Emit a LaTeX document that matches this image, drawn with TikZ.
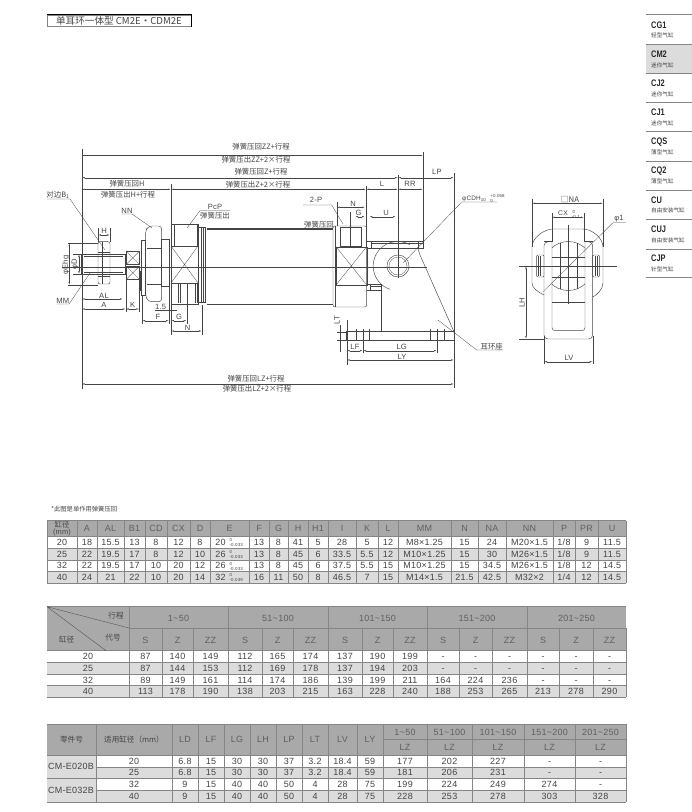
\documentclass[tikz,border=0pt]{standalone}
\usepackage{fontspec}
\setmainfont[LetterSpace=3]{Liberation Sans}
\newfontfamily\cjk{Noto Sans CJK SC}
\newfontfamily\sidefont[FakeStretch=0.78]{Liberation Sans}
\usetikzlibrary{arrows.meta}
\definecolor{ink}{HTML}{444444}
\definecolor{headgray}{HTML}{A9A9A9}
\definecolor{bandgray}{HTML}{DCDCDC}
\definecolor{rulegray}{HTML}{858585}
\newcommand\tol[2]{\hspace{4pt}\smash{\parbox[c]{14pt}{\fontsize{4.4}{5}\selectfont #1\\#2}}}
\tikzset{
  part/.style={draw=ink,line width=.45pt},
  thin part/.style={draw=ink,line width=.3pt},
  axis/.style={draw=ink,line width=.35pt},
  dimline/.style={draw=ink,line width=.35pt,{Latex[length=3pt,width=1.3pt]}-{Latex[length=3pt,width=1.3pt]}},
  leader/.style={draw=ink,line width=.3pt},
  lab/.style={font=\cjk\fontsize{7.4}{8}\selectfont,text=ink,inner sep=0pt},
  dimlab/.style={font=\fontsize{7.6}{8}\selectfont,text=ink,inner sep=0pt},
  cell/.style={font=\fontsize{9}{9}\selectfont,text=ink,inner sep=0pt,text height=6.3pt,text depth=0pt},
  headcell/.style={cell,text=ink!85},
  zhcell/.style={font=\cjk\fontsize{7.6}{8}\selectfont,text=ink,inner sep=0pt,align=center},
  grid/.style={draw=rulegray,line width=.6pt},
  sidename/.style={font=\sidefont\bfseries\fontsize{9.5}{10}\selectfont,text=black!85,inner sep=0pt,anchor=west},
  sidesub/.style={font=\cjk\fontsize{5.6}{6}\selectfont,text=ink,inner sep=0pt,anchor=west},
}
\begin{document}
\begin{tikzpicture}[x=1pt,y=-1pt]
\useasboundingbox (0,0) rectangle (692,812);

% title
\draw[draw=rulegray,line width=.5pt] (47,15) rectangle (191,26.7);
\draw[black,line width=1pt] (47,14.5) -- (191,14.5) -- (191,27);
\node[lab,font=\cjk\fontsize{9.6}{10}\selectfont] (title) at (119,21) {单耳环一体型 CM2E・CDM2E};

% side list
\fill[bandgray] (646,44) rectangle (692,73.3);
\foreach \y in {14.7,44,73.3,102.3,131,161,190,219.3,249,277.7}
  \draw[rulegray,line width=.7pt] (646,\y) -- (692,\y);
\foreach \ya/\yb/\name/\sub [count=\c] in {25/35.7/CG1/轻型气缸,54/65.7/CM2/迷你气缸,83/94/CJ2/迷你气缸,112/123/CJ1/迷你气缸,141.7/152/CQS/薄型气缸,170.7/181/CQ2/薄型气缸,200/210.7/CU/自由安装气缸,229/240/CUJ/自由安装气缸,258/269/CJP/针型气缸}{
  \node[sidename] (side-\c) at (651,\ya) {\name};
  \node[sidesub] (sub-\c) at (651,\yb) {\sub};
}

% datum lines
\draw[axis] (81.7,149) -- (81.7,389);
\draw[axis] (423,152) -- (423,248);
\draw[axis] (454,173) -- (454,388);
\draw[axis] (398,175) -- (398,278);
\draw[axis] (171,184) -- (171,335);
\draw[axis] (366,186) -- (366,248);
\draw[axis] (62,266.7) -- (427,266.7);

% stroke dimensions
\draw[dimline] (81.7,155.5) -- (423,155.5);
\draw[dimline] (81.7,177.7) -- (398,177.7);
\draw[dimline] (398,177.7) -- (454,177.7);
\draw[dimline] (81.7,189.3) -- (171,189.3);
\draw[dimline] (171,189.3) -- (366,189.3);
\draw[dimline] (366,189.3) -- (398,189.3);
\draw[dimline] (398,189.3) -- (423,189.3);
\draw[dimline] (81.7,384) -- (454,384);
\node[lab] (zz-in) at (261,147) {弹簧压回ZZ+行程};
\node[lab] (zz-out) at (256,160) {弹簧压出ZZ+2×行程};
\node[lab] (z-in) at (261,172) {弹簧压回Z+行程};
\node[lab] (z-out) at (258,185) {弹簧压出Z+2×行程};
\node[lab] (h-in) at (127,184) {弹簧压回H};
\node[lab] (h-out) at (128,195) {弹簧压出H+行程};
\node[lab] (lz-in) at (256,379) {弹簧压回LZ+行程};
\node[lab] (lz-out) at (257,389) {弹簧压出LZ+2×行程};
\node[dimlab] (l-lab) at (382,184) {L};
\node[dimlab] (rr-lab) at (410,184) {RR};
\node[dimlab] (lp-lab) at (437,172) {LP};

% rod, thread, nut
\draw[part] (81.7,254) -- (125,254) -- (125,274) -- (81.7,274) -- cycle;
\draw[thin part] (84,256) -- (123,256) (84,272) -- (123,272);
\draw[part,rounded corners=2] (98,241.7) rectangle (110,284);
\draw[thin part] (98,252) -- (110,252) (98,276) -- (110,276) (102,242) -- (102,284);
\draw[part] (126.7,251.7) rectangle (139,264);
\draw[part] (126.7,266.7) rectangle (139,279);
\draw[thin part] (126.7,251.7) -- (139,264) (126.7,264) -- (139,251.7);
\draw[thin part] (126.7,266.7) -- (139,279) (126.7,279) -- (139,266.7);

% mounting nut
\draw[part] (140,271.7) rectangle (141.7,290);
\draw[part] (141.7,240) rectangle (145.7,295);
\draw[part,rounded corners=3] (145.7,230) -- (149,226) -- (161.7,226) -- (161.7,301.7) -- (149,301.7) -- (145.7,297) -- cycle;
\draw[thin part] (147,248) -- (161.7,248) (147,284) -- (161.7,284);
\draw[part] (161.7,239) rectangle (169.3,286.7);

% left head
\draw[part] (171,224) rectangle (198,304);
\draw[part] (198,227) -- (205.7,227) -- (205.7,302) -- (198,302);
\draw[thin part] (201,227) -- (201,302) (203,227) -- (203,302);
\draw[thin part] (173.7,224) -- (173.7,246) (196.7,224) -- (196.7,246);
\draw[thin part] (171,246) rectangle (198,283);
\draw[thin part] (171,246) -- (198,283) (171,283) -- (198,246);
\draw[thin part] (178,284) -- (178,303) (180,284) -- (180,303) (195,284) -- (195,303) (197,284) -- (197,303);

% cylinder tube
\draw[part] (206.7,228) -- (332.7,228) (206.7,304) -- (332.7,304);
\draw[thin part] (206.7,229) -- (332.7,229);

% right head
\draw[part,rounded corners=2] (333,226) -- (366.7,226) -- (366.7,307) -- (333,307) -- cycle;
\draw[thin part] (335,226) -- (335,307);
\draw[thin part] (336,246.7) rectangle (366.7,285);
\draw[thin part] (336,246.7) -- (366.7,285) (336,285) -- (366.7,246.7);
\draw[part] (340,227.7) rectangle (361,246);
\draw[thin part] (350.5,212) -- (350.5,246);

% clevis
\draw[part] plot[domain=60:252,samples=40] ({397.7+24.5*cos(\x)},{266-24.5*sin(\x)});
\draw[part] (398,266) circle (11);
\draw[thin part] (398,266) circle (9);
\draw[part] (366.7,241.7) -- (423,241.7) -- (423,248.3) -- (366.7,248.3);
\draw[thin part] (371,243.5) -- (423,243.5) (371,241.7) -- (371,248.3) (418,241.7) -- (418,248.3);
\draw[part] (366.7,284) -- (381.7,284) -- (381.7,290.7) -- (366.7,290.7);
\draw[thin part] (370,284) -- (370,290.7) (370,286.5) -- (381.7,286.5);
\draw[part] (381.7,285) -- (381.7,331.7);
\draw[part] (417.7,248) -- (420,255) -- (454,331.7);
\draw[part] (346.7,331.7) rectangle (454,340);
\foreach \x in {356,362.7,369.3,430,437.3,444}
  \draw[thin part] (\x,329) -- (\x,340);

% left dimensions
\draw[dimline] (98,235) -- (110,235);
\draw[axis] (98,228) -- (98,242) (110,228) -- (110,242);
\node[dimlab] (h-lab) at (104,231) {H};
\draw[dimline] (69.3,243) -- (69.3,285);
\draw[axis] (68,243) -- (98,243) (68,285) -- (98,285);
\node[dimlab,rotate=90] (ehg-lab) at (66,265) {φEhg};
\draw[dimline] (79,254) -- (79,274);
\draw[axis] (73,254) -- (82,254) (73,274) -- (82,274);
\node[dimlab,rotate=90] (d-lab) at (75,264) {φD};
\node[lab] (b1-lab) at (58,195) {对边B\textsubscript{1}};
\draw[leader] (47,199) -- (70,199) -- (105,250);
\node[dimlab] (nn-lab) at (127,211) {NN};
\draw[leader] (122,214) -- (132,214) -- (152,228);
\node[dimlab] (pcp-lab) at (215,206.5) {PcP};
\node[lab] (pcp-out) at (215,215.5) {弹簧压出};
\draw[leader] (230,210.7) -- (200,210.7) -- (187,228);
\node[dimlab] (mm-lab) at (62.7,300.7) {MM};
\draw[leader] (56.7,304) -- (69,304) -- (90,273);
\draw[dimline] (81.7,299) -- (123,299);
\node[dimlab] (al-lab) at (104,296) {AL};
\draw[dimline] (81.7,309) -- (125.7,309);
\node[dimlab] (a-lab) at (104,305) {A};
\draw[dimline] (125.7,309) -- (139.3,309);
\node[dimlab] (k-lab) at (132.7,305) {K};
\draw[axis] (125.7,274) -- (125.7,312) (139.3,280) -- (139.3,312);
\node[dimlab] (t-lab) at (160.7,306.5) {1.5};
\draw[axis] (155,310) -- (176.7,310);
\draw[dimline] (142,320.7) -- (169,320.7);
\node[dimlab] (f-lab) at (158,317) {F};
\draw[dimline] (171,320.7) -- (186.7,320.7);
\node[dimlab] (g-lab) at (179,317) {G};
\draw[dimline] (171,331) -- (202,331);
\node[dimlab] (n-lab) at (187.7,327.7) {N};
\draw[axis] (142,296) -- (142,324) (169,287) -- (169,324) (187,284) -- (187,324) (202,305) -- (202,335);

% right dimensions
\node[dimlab] (twop-lab) at (316,200) {2-P};
\draw[leader] (303,205) -- (331.7,205) -- (343,224);
\node[lab] (ret-lab) at (319,224.3) {弹簧压回};
\draw[dimline] (336.7,207.3) -- (365,207.3);
\draw[axis] (336.7,202) -- (336.7,226);
\node[dimlab] (n2-lab) at (353,203.7) {N};
\draw[dimline] (355,216.7) -- (365,216.7);
\node[dimlab] (g2-lab) at (358.7,213) {G};
\draw[dimline] (369.3,216.7) -- (396,216.7);
\node[dimlab] (u-lab) at (386,213) {U};
\node[dimlab,rotate=90] (lt-lab) at (337,320) {LT};
\draw[axis] (337,331.7) -- (347,331.7) (337,340) -- (347,340) (340.3,325) -- (340.3,352);
\draw[dimline] (346.7,350.7) -- (363,350.7);
\node[dimlab] (lf-lab) at (355,347) {LF};
\draw[dimline] (363,350.7) -- (437,350.7);
\node[dimlab] (lg-lab) at (401.7,347) {LG};
\draw[dimline] (346.7,360) -- (454,360);
\node[dimlab] (ly-lab) at (402,357) {LY};
\draw[axis] (346.7,320) -- (346.7,365) (363,329) -- (363,353) (437,329) -- (437,353);
\node[lab] (seat-lab) at (491.7,346.5) {耳环座};
\draw[leader] (503,350) -- (476.7,350) -- (438,320);
\node[dimlab,font=\fontsize{6.4}{7}\selectfont,anchor=west] (cdh-lab) at (462,198.7) {φCDH\textsubscript{10}\tol{+0.058}{0}};
\draw[leader] (497,202) -- (461.7,202) -- (403,263);

% side view
\draw[part] (553,229) -- (583,229) .. controls (592,229) and (603,238) .. (603,247) -- (603,283) .. controls (603,289) and (597,295) .. (592.7,297);
\draw[part] (553,229) .. controls (544,229) and (532,238) .. (532,247) -- (532,283) .. controls (532,288) and (538,292) .. (544,295);
\draw[part,rounded corners=4] (552,241.7) -- (544,241.7) -- (544,339) -- (592.7,339) -- (592.7,241.7) -- (585,241.7);
\draw[part] (544,241.7) -- (552,241.7) (585,241.7) -- (592.7,241.7);
\draw[part,rounded corners=3] (552,241.7) -- (552,330.7) -- (585,330.7) -- (585,241.7);
\draw[thin part] (552,301.7) -- (585,301.7);
\begin{scope}
\clip (552,230) rectangle (585,300);
\draw[part] (568.3,266) circle (24.5);
\foreach \y in {256.7,276.7}
  \draw[thin part] (552,\y) -- (585,\y);
\foreach \x in {560,576.7}
  \draw[thin part] (\x,243) -- (\x,289);
\end{scope}
\draw[part,rounded corners=1] (536.7,255) rectangle (544,277);
\draw[thin part] (538.5,256) -- (538.5,276) (540.5,256) -- (540.5,276);
\draw[part,rounded corners=1] (592.7,255) rectangle (599.3,277);
\draw[thin part] (595,256) -- (595,276) (597,256) -- (597,276);
\draw[axis] (519,266) -- (617,266);
\draw[axis] (568.3,225) -- (568.3,304);
\draw[dimline] (532,203.3) -- (603,203.3);
\draw[axis] (532,199) -- (532,247) (603,199) -- (603,247);
\node[lab,font=\cjk\fontsize{7.8}{8}\selectfont] (na-lab) at (570,199.5) {□NA};
\draw[dimline] (551.7,217.3) -- (584,217.3);
\draw[axis] (551.7,213) -- (551.7,242) (584,213) -- (584,242);
\node[dimlab,font=\fontsize{6.8}{7}\selectfont,anchor=west] (cx-lab) at (558,213.5) {CX\tol{\,0}{-0.1}};
\node[dimlab] (phi-lab) at (619,218.5) {φ1};
\draw[leader] (626,222.7) -- (613,222.7) -- (543,291.7);
\draw[dimline] (526,266) -- (526,339);
\draw[axis] (519,339) -- (544,339);
\node[dimlab,rotate=90] (lh-lab) at (522,302.7) {LH};
\draw[dimline] (544,361.7) -- (592.7,361.7);
\draw[axis] (544,336) -- (544,364) (592.7,336) -- (592.7,364);
\node[dimlab] (lv-lab) at (569,357.7) {LV};

% note
\node[lab,anchor=west,font=\cjk\fontsize{6.3}{7}\selectfont] (note) at (51,509) {*此图是单作用弹簧压回};

% table one
\fill[headgray] (47,520.7) rectangle (626,536);
\fill[bandgray] (47,548) rectangle (626,560);
\fill[bandgray] (47,571) rectangle (626,583);
\foreach \y in {520.7,536,548,560,571,583}
  \draw[grid] (47,\y) -- (626,\y);
\node[zhcell,font=\fontsize{7.4}{7.4}\selectfont] (bore-a) at (62,528.5) {{\cjk 缸径}\\(mm)};
\foreach \xa/\xb/\ra/\rb/\rc/\rd/\re [count=\c] in {
  47/77/{}/20/25/32/40,
  77/97/A/18/22/22/24,
  97/124/AL/15.5/19.5/19.5/21,
  124/145/B1/13/17/17/22,
  145/167/CD/8/8/10/10,
  167/190/CX/12/12/20/20,
  190/210/D/8/10/12/14,
  210/249/E/{20\tol{0}{-0.033}}/{26\tol{0}{-0.033}}/{26\tol{0}{-0.033}}/{32\tol{0}{-0.039}},
  249/269/F/13/13/13/16,
  269/288/G/8/8/8/11,
  288/308/H/41/45/45/50,
  308/328/H1/5/6/6/8,
  328/356/I/28/33.5/37.5/46.5,
  356/378/K/5/5.5/5.5/7,
  378/398/L/12/12/15/15,
  398/451/MM/M8×1.25/M10×1.25/M10×1.25/M14×1.5,
  451/478/N/15/15/15/21.5,
  478/506/NA/24/30/34.5/42.5,
  506/553/NN/M20×1.5/M26×1.5/M26×1.5/M32×2,
  553/575/P/{1/8}/{1/8}/{1/8}/{1/4},
  575/598/PR/9/9/12/12,
  598/626/U/11.5/11.5/14.5/14.5}{
  \draw[grid] (\xb,520.7) -- (\xb,583);
  \node[headcell] (a-\c-0) at ({(\xa+\xb)/2},528.5) {\ra};
  \node[cell] (a-\c-1) at ({(\xa+\xb)/2},542) {\rb};
  \node[cell] (a-\c-2) at ({(\xa+\xb)/2},554) {\rc};
  \node[cell] (a-\c-3) at ({(\xa+\xb)/2},565.5) {\rd};
  \node[cell] (a-\c-4) at ({(\xa+\xb)/2},577) {\re};
}
\draw[grid] (47,520.7) -- (47,583);

% table two
\fill[headgray] (47,606.7) rectangle (626,650.7);
\fill[bandgray] (47,662) rectangle (626,674);
\fill[bandgray] (47,685.7) rectangle (626,697);
\foreach \y in {650.7,662,674,685.7,697}
  \draw[grid] (47,\y) -- (626,\y);
\draw[grid] (129,628) -- (626,628);
\draw[grid] (47,606.7) -- (626,606.7);
\draw[thin part] (47,606.7) -- (129,628) (47,606.7) -- (106,650.7);
\node[zhcell] (stroke) at (116,615.7) {行程};
\node[zhcell] (code) at (113,637.7) {代号};
\node[zhcell] (bore) at (66.7,640) {缸径};
\foreach \xa/\xb/\t [count=\c] in {129/228/1\textasciitilde 50,228/328/51\textasciitilde 100,328/427/101\textasciitilde 150,427/527/151\textasciitilde 200,527/626/201\textasciitilde 250}{
  \draw[grid] (\xa,606.7) -- (\xa,697);
  \node[headcell] (g-\c) at ({(\xa+\xb)/2},618) {\t};
}
\foreach \t/\y [count=\c] in {20/656.5,25/668,32/680,40/691.5}
  \node[cell] (bore-\c) at (88,\y) {\t};
\foreach \xa/\xb/\ra/\rb/\rc/\rd/\re [count=\c] in {
  129/162/S/87/87/89/113,
  162/193/Z/140/144/149/178,
  193/228/ZZ/149/153/161/190,
  228/262/S/112/112/114/138,
  262/293/Z/165/169/174/203,
  293/328/ZZ/174/178/186/215,
  328/362/S/137/137/139/163,
  362/393/Z/190/194/199/228,
  393/427/ZZ/199/203/211/240,
  427/459/S/-/-/164/188,
  459/492/Z/-/-/224/253,
  492/527/ZZ/-/-/236/265,
  527/559/S/-/-/-/213,
  559/593/Z/-/-/-/278,
  593/626/ZZ/-/-/-/290}{
  \draw[grid] (\xb,628) -- (\xb,697);
  \node[headcell] (b-\c-0) at ({(\xa+\xb)/2},640) {\ra};
  \node[cell] (b-\c-1) at ({(\xa+\xb)/2},656.5) {\rb};
  \node[cell] (b-\c-2) at ({(\xa+\xb)/2},668) {\rc};
  \node[cell] (b-\c-3) at ({(\xa+\xb)/2},680) {\rd};
  \node[cell] (b-\c-4) at ({(\xa+\xb)/2},691.5) {\re};
}

% table three
\fill[headgray] (47,724) rectangle (626,755);
\fill[bandgray] (47,755) rectangle (96,802);
\fill[bandgray] (96,767) rectangle (626,778);
\fill[bandgray] (96,790) rectangle (626,802);
\draw[grid] (47,724) -- (626,724);
\draw[grid] (383,739) -- (626,739);
\draw[grid] (47,755) -- (626,755);
\draw[grid] (96,767) -- (626,767);
\draw[grid] (47,778) -- (626,778);
\draw[grid] (96,790) -- (626,790);
\draw[grid] (47,802) -- (626,802);
\node[zhcell] (part-no) at (71.5,739.5) {零件号};
\node[zhcell] (fit-bore) at (134,739.5) {适用缸径（mm）};
\node[cell] (no-1) at (71,766.5) {CM-E020B};
\node[cell] (no-2) at (71,790) {CM-E032B};
\foreach \t/\y [count=\c] in {20/761,25/772.5,32/784,40/796}
  \node[cell] (fit-\c) at (134,\y) {\t};
\foreach \x in {96,172}
  \draw[grid] (\x,724) -- (\x,802);
\foreach \xa/\xb/\ra/\rb/\rc/\rd/\re [count=\c] in {
  172/198/LD/6.8/6.8/9/9,
  198/224/LF/15/15/15/15,
  224/250/LG/30/30/40/40,
  250/276/LH/30/30/40/40,
  276/302/LP/37/37/50/50,
  302/328/LT/3.2/3.2/4/4,
  328/357/LV/18.4/18.4/28/28,
  357/383/LY/59/59/75/75}{
  \draw[grid] (\xb,724) -- (\xb,802);
  \node[headcell] (c-\c-0) at ({(\xa+\xb)/2},739.5) {\ra};
  \node[cell] (c-\c-1) at ({(\xa+\xb)/2},761) {\rb};
  \node[cell] (c-\c-2) at ({(\xa+\xb)/2},772.5) {\rc};
  \node[cell] (c-\c-3) at ({(\xa+\xb)/2},784) {\rd};
  \node[cell] (c-\c-4) at ({(\xa+\xb)/2},796) {\re};
}
\foreach \xa/\xb/\t/\ra/\rb/\rc/\rd [count=\c] in {
  383/427/1\textasciitilde 50/177/181/199/228,
  427/472/51\textasciitilde 100/202/206/224/253,
  472/524/101\textasciitilde 150/227/231/249/278,
  524/575/151\textasciitilde 200/-/-/274/303,
  575/626/201\textasciitilde 250/-/-/-/328}{
  \draw[grid] (\xb,724) -- (\xb,802);
  \node[headcell] (d-\c-0) at ({(\xa+\xb)/2},732) {\t};
  \node[headcell] (lz-\c) at ({(\xa+\xb)/2},747) {LZ};
  \node[cell] (d-\c-1) at ({(\xa+\xb)/2},761) {\ra};
  \node[cell] (d-\c-2) at ({(\xa+\xb)/2},772.5) {\rb};
  \node[cell] (d-\c-3) at ({(\xa+\xb)/2},784) {\rc};
  \node[cell] (d-\c-4) at ({(\xa+\xb)/2},796) {\rd};
}
\end{tikzpicture}
\end{document}
